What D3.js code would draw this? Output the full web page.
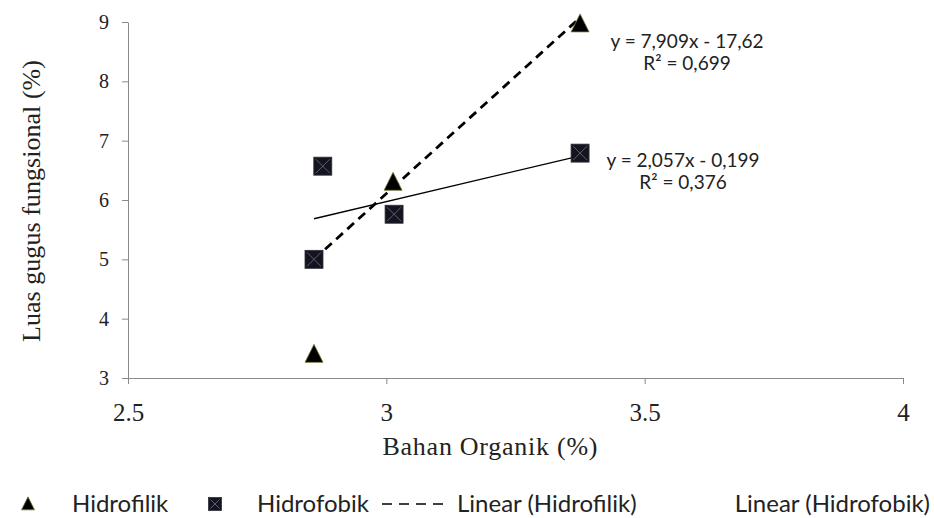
<!DOCTYPE html>
<meta charset="utf-8">
<head>
<style>
  body { margin: 0; background: #fff; }
  .tick text { font-family: "Liberation Serif", serif; fill: #222; }
  .axis path, .axis line { stroke: #8a8a8a; }
  .eq { font-family: Lato, "Open Sans", sans-serif; font-size: 19px; fill: #222; }
  .leg { font-family: Lato, "Open Sans", sans-serif; font-size: 24px; fill: #222; }
</style>
<script src="https://cdn.jsdelivr.net/npm/d3@7"></script>
</head>
<body>
<svg id="chart"></svg>
<script>
  var width = 934, height = 518;

  // data
  var hidrofilikX = [2.86, 3.013, 3.375];
  var hidrofilikY = [3.40, 6.30, 8.97];
  var hidrofobikX = [2.86, 2.877, 3.015, 3.375];
  var hidrofobikY = [5.00, 6.57, 5.76, 6.79];

  // trend lines (coefficients shown on the chart)
  var trendNames = ["Hidrofilik", "Hidrofobik"];
  var trendSlope = [7.909, 2.057];
  var trendIntercept = [-17.62, -0.199];
  var trendRange = [[2.86, 3.375], [2.86, 3.375]];
  var trendEq = ["y = 7,909x - 17,62", "y = 2,057x - 0,199"];
  var trendR2 = ["R\u00b2 = 0,699", "R\u00b2 = 0,376"];

  var xTicks = [2.5, 3, 3.5, 4];
  var yTicks = [3, 4, 5, 6, 7, 8, 9];
  var xTickLabels = ["2.5", "3", "3.5", "4"];

  var margin = {top: 22, right: 31, bottom: 140, left: 128};

  var svg = d3.select("#chart")
      .attr("width", width)
      .attr("height", height);

  var x = d3.scaleLinear().domain([2.5, 4]).range([margin.left, width - margin.right]);
  var y = d3.scaleLinear().domain([3, 9]).range([height - margin.bottom, margin.top]);

  // axes
  svg.append("g")
      .attr("class", "axis")
      .attr("transform", "translate(0," + y(3) + ")")
      .call(d3.axisBottom(x).tickValues(xTicks).tickSize(6).tickSizeOuter(0)
          .tickFormat(function(d, i){ return xTickLabels[i]; }))
      .call(function(g){
          g.selectAll(".tick text").attr("y", 43).attr("dy", null).style("font-size", "25px");
      });

  svg.append("g")
      .attr("class", "axis")
      .attr("transform", "translate(" + x(2.5) + ",0)")
      .call(d3.axisLeft(y).tickValues(yTicks).tickSize(6).tickSizeOuter(0).tickFormat(d3.format("d")))
      .call(function(g){
          g.selectAll(".tick text").attr("x", -19).style("font-size", "20px");
      });

  // axis titles
  svg.append("text")
      .attr("x", 490)
      .attr("y", 455)
      .attr("text-anchor", "middle")
      .attr("textLength", 215)
      .style("font-family", "Liberation Serif, serif")
      .style("font-size", "26px")
      .style("fill", "#222")
      .text("Bahan Organik (%)");

  svg.append("text")
      .attr("transform", "translate(40,201) rotate(-90)")
      .attr("text-anchor", "middle")
      .attr("textLength", 282)
      .style("font-family", "Liberation Serif, serif")
      .style("font-size", "26px")
      .style("fill", "#222")
      .text("Luas gugus fungsional (%)");

  // trend lines
  var trendStyle = [
      {w: 2.8, dash: "9,6"},
      {w: 1.3, dash: null}
  ];
  trendNames.forEach(function(n, i){
      var x0 = trendRange[i][0], x1 = trendRange[i][1];
      svg.append("line")
          .attr("x1", x(x0)).attr("y1", y(trendSlope[i] * x0 + trendIntercept[i]))
          .attr("x2", x(x1)).attr("y2", y(trendSlope[i] * x1 + trendIntercept[i]))
          .style("stroke", "#000")
          .style("stroke-width", trendStyle[i].w)
          .style("stroke-dasharray", trendStyle[i].dash);
  });

  // equations
  var eqPos = [[687, 48], [683, 167]];
  trendEq.forEach(function(t, i){
      svg.append("text").attr("class", "eq")
          .attr("x", eqPos[i][0]).attr("y", eqPos[i][1])
          .attr("text-anchor", "middle").text(t);
      svg.append("text").attr("class", "eq")
          .attr("x", eqPos[i][0]).attr("y", eqPos[i][1] + 22)
          .attr("text-anchor", "middle").text(trendR2[i]);
  });

  // markers
  function triangle(g, cx, cy, s) {
      g.append("path")
          .attr("d", "M" + cx + "," + (cy - s * 0.55) + "L" + (cx + s / 2) + "," + (cy + s * 0.45)
              + "L" + (cx - s / 2) + "," + (cy + s * 0.45) + "Z")
          .style("fill", "#000")
          .style("stroke", "#7a7a3a")
          .style("stroke-width", 0.8);
  }
  function square(g, cx, cy, s) {
      var h = s / 2;
      g.append("rect")
          .attr("x", cx - h).attr("y", cy - h).attr("width", s).attr("height", s)
          .style("fill", "#14141f")
          .style("stroke", "#30303a")
          .style("stroke-width", 0.8);
      g.append("path")
          .attr("d", "M" + (cx - h + 2) + "," + (cy - h + 2) + "L" + (cx + h - 2) + "," + (cy + h - 2)
              + "M" + (cx + h - 2) + "," + (cy - h + 2) + "L" + (cx - h + 2) + "," + (cy + h - 2))
          .style("stroke", "#5a5f78")
          .style("stroke-width", 1);
  }

  var pts = svg.append("g");
  hidrofobikX.forEach(function(d, i){ square(pts, x(d), y(hidrofobikY[i]), 18); });
  hidrofilikX.forEach(function(d, i){ triangle(pts, x(d), y(hidrofilikY[i]), 18); });

  // legend
  var leg = svg.append("g");
  var ly = 504;
  triangle(leg, 28, ly, 13);
  leg.append("text").attr("class", "leg").attr("x", 72).attr("y", ly + 8).text("Hidrofilik");
  square(leg, 215, ly, 13);
  leg.append("text").attr("class", "leg").attr("x", 257).attr("y", ly + 8).text("Hidrofobik");
  leg.append("line")
      .attr("x1", 382).attr("x2", 443).attr("y1", ly).attr("y2", ly)
      .style("stroke", "#000").style("stroke-width", 1.4).style("stroke-dasharray", "10,7");
  leg.append("text").attr("class", "leg").attr("x", 457).attr("y", ly + 8).text("Linear (Hidrofilik)");
  leg.append("text").attr("class", "leg").attr("x", 930).attr("y", ly + 8)
      .attr("text-anchor", "end").text("Linear (Hidrofobik)");
</script>
</body>
